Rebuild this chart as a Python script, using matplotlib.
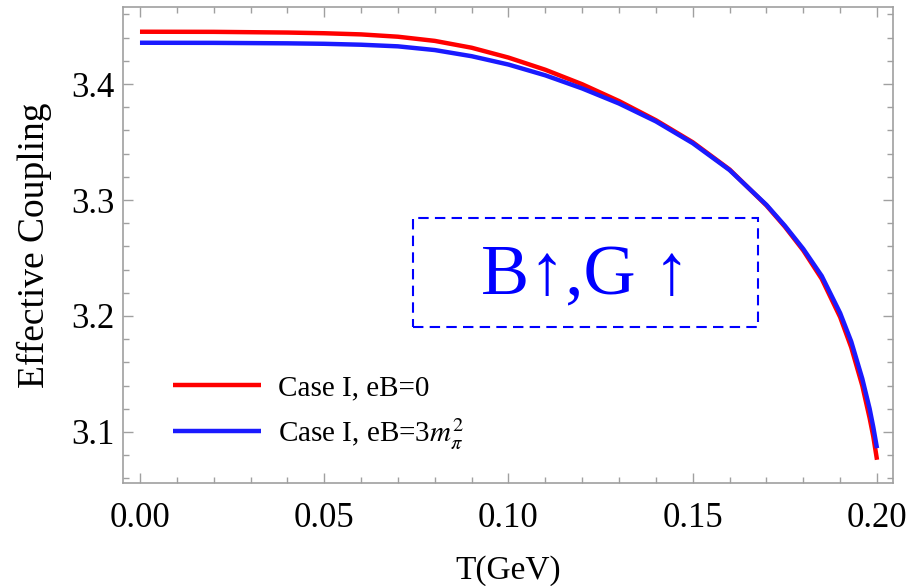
import matplotlib
matplotlib.use("Agg")
import matplotlib.pyplot as plt
from matplotlib.patches import Rectangle
from matplotlib.ticker import MultipleLocator, FormatStrFormatter

plt.rcParams['font.family'] = ['Liberation Serif', 'DejaVu Serif']
plt.rcParams['mathtext.fontset'] = 'stix'

T = [0.0, 0.02, 0.04, 0.05, 0.06, 0.07, 0.08, 0.09, 0.10, 0.11, 0.12, 0.13, 0.14, 0.15,
     0.16, 0.17, 0.175, 0.18, 0.185, 0.19, 0.193, 0.196, 0.198, 0.199, 0.2]
G_eB0 = [3.4451, 3.4450, 3.4444, 3.4438, 3.4428, 3.4408, 3.4372, 3.4313, 3.4228, 3.4123,
         3.3998, 3.3853, 3.3688, 3.3498, 3.3263, 3.2953, 3.2770, 3.2565, 3.2320, 3.1990,
         3.1730, 3.1400, 3.1120, 3.0960, 3.0760]
G_eB3 = [3.4356, 3.4355, 3.4351, 3.4347, 3.4339, 3.4325, 3.4293, 3.4240, 3.4168, 3.4075,
         3.3962, 3.3832, 3.3678, 3.3490, 3.3258, 3.2958, 3.2778, 3.2578, 3.2345, 3.2025,
         3.1780, 3.1460, 3.1200, 3.1040, 3.0860]
labels = ['Case I, eB=0', r'Case I, eB=3$m_\pi^2$']

fig = plt.figure(figsize=(9.12, 5.86), dpi=100)
ax = fig.add_axes([0.1349, 0.1758, 0.979 - 0.1349, 0.988 - 0.1758])

ax.plot(T, G_eB0, color='#ff0000', lw=3.2, label=labels[0], solid_capstyle='butt',
        solid_joinstyle='round')
ax.plot(T, G_eB3, color='#1a1aff', lw=3.2, label=labels[1], solid_capstyle='butt',
        solid_joinstyle='round')

ax.set_xlim(-0.0046, 0.2043)
ax.set_ylim(3.056, 3.4664)

ax.xaxis.set_major_locator(MultipleLocator(0.05))
ax.xaxis.set_minor_locator(MultipleLocator(0.01))
ax.yaxis.set_major_locator(MultipleLocator(0.1))
ax.yaxis.set_minor_locator(MultipleLocator(0.02))
ax.xaxis.set_major_formatter(FormatStrFormatter('%.2f'))
ax.yaxis.set_major_formatter(FormatStrFormatter('%.1f'))

fc = '#a0a0a0'
for s in ax.spines.values():
    s.set_color(fc)
    s.set_linewidth(1.2)
ax.tick_params(which='both', direction='in', top=True, right=True, color=fc, width=1)
ax.tick_params(which='major', length=7)
ax.tick_params(which='minor', length=4)
ax.tick_params(axis='x', which='major', labelsize=25, pad=14)
ax.tick_params(axis='y', which='major', labelsize=25, pad=6)

ax.set_xlabel('T(GeV)', fontsize=24, labelpad=14)
ax.set_ylabel('Effective Coupling', fontsize=27, labelpad=14)

leg = ax.legend(loc='lower left', bbox_to_anchor=(0.031, 0.012), frameon=False,
                fontsize=21, handlelength=3.0, handletextpad=0.6, labelspacing=0.5)

ax.add_patch(Rectangle((0.0741, 3.1903), 0.1677 - 0.0741, 3.2847 - 3.1903,
                       fill=False, edgecolor='#0000ff', lw=1.5, ls=(0, (5, 3))))
ax.text((0.0741 + 0.1677) / 2, 3.234, 'B\u2191,G \u2191', color='#0000ff',
        fontsize=52, ha='center', va='center')

fig.savefig('out.png', dpi=100)
